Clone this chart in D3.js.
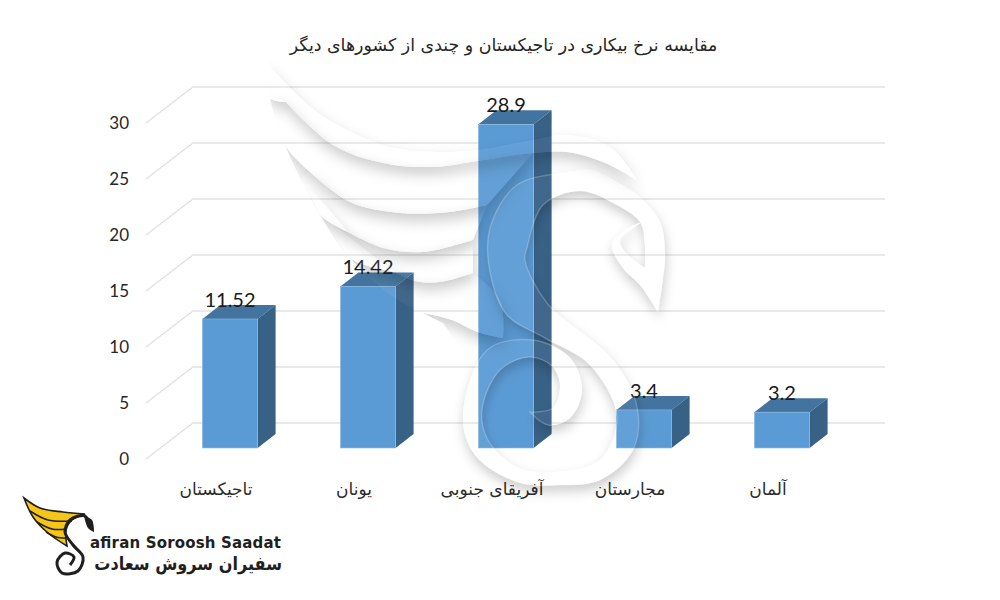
<!DOCTYPE html>
<html><head><meta charset="utf-8">
<script src="https://cdn.jsdelivr.net/npm/d3@7"></script>
<style>html,body{margin:0;background:#fff}svg{display:block}</style></head>
<body><svg id="c" width="1000" height="600"></svg>
<script>
const categories=["تاجیکستان","یونان","آفریقای جنوبی","مجارستان","آلمان"];
const values=[11.52,14.42,28.9,3.4,3.2];
const valueLabels=["11.52","14.42","28.9","3.4","3.2"];
const yTicks=[0,5,10,15,20,25,30];
const title="مقایسه نرخ بیکاری در تاجیکستان و چندی از کشورهای دیگر";
const logoLatin="afiran Soroosh Saadat";
const logoPersian="سفیران سروش سعادت";

const svg=d3.select("#c");
const y=d3.scaleLinear().domain([0,30]).range([448,112]);
const x=d3.scaleBand().domain(categories).range([161,851]).paddingInner(0.6).paddingOuter(0.3);
const depthX=18,depthY=14,wallX=47,wallY=36,gridFrontX=146,gridEndX=885;
const faFont="'DejaVu Sans',sans-serif",numFont="Lato,'Open Sans',sans-serif";

const grid=svg.append("g").attr("fill","none").attr("stroke","#e2e2e2").attr("stroke-width",1.4);
yTicks.forEach(t=>{
  const fy=y(t)+11;
  grid.append("path").attr("d",`M${gridFrontX},${fy}L${gridFrontX+wallX},${fy-wallY}L${gridEndX},${fy-wallY}`);
});
svg.append("g").selectAll("text").data(yTicks).join("text")
  .attr("x",129).attr("y",d=>y(d)+17).attr("text-anchor","end")
  .attr("font-family",numFont).attr("font-size",17).attr("fill","#262626").text(d=>d);

const bars=svg.append("g").selectAll("g").data(values).join("g");
const xs=(d,i)=>x(categories[i]);
bars.append("path").attr("fill","#42749f").attr("d",(d,i)=>{
  const a=xs(d,i),w=x.bandwidth(),t=y(d);
  return `M${a},${t}l${depthX},${-depthY}h${w}l${-depthX},${depthY}z`;});
bars.append("path").attr("fill","#386186").attr("d",(d,i)=>{
  const a=xs(d,i)+x.bandwidth(),t=y(d),b=y(0);
  return `M${a},${t}l${depthX},${-depthY}V${b-depthY}l${-depthX},${depthY}z`;});
bars.append("rect").attr("fill","#5b9bd5").attr("stroke","#8db9e2").attr("stroke-width",.6)
  .attr("x",xs).attr("y",d=>y(d)).attr("width",x.bandwidth()).attr("height",d=>y(0)-y(d));

svg.append("g").selectAll("text").data(values).join("text")
  .attr("x",(d,i)=>xs(d,i)+x.bandwidth()/2).attr("y",d=>y(d)-12)
  .attr("text-anchor","middle").attr("font-family",numFont).attr("font-size",20)
  .attr("fill","#1a1a1a").text((d,i)=>valueLabels[i]);

svg.append("g").selectAll("text").data(categories).join("text")
  .attr("x",d=>x(d)+x.bandwidth()/2-14).attr("y",495)
  .attr("text-anchor","middle").attr("font-family",faFont).attr("font-size",17).attr("fill","#2a2a2a")
  .text(d=>d);

svg.append("text").attr("x",503.5).attr("y",51).attr("text-anchor","middle")
  .attr("font-family",faFont).attr("font-size",17.4).attr("fill","#262626").text(title);

// watermark (decorative swan emblem)
const seg=pts=>d3.line().curve(d3.curveCatmullRom.alpha(.5))(pts);
const outline=(...segs)=>segs.map((s,i)=>i?seg(s).replace(/^M/,"L"):seg(s)).join("")+"Z";
const defs=svg.append("defs");
function shadowFilter(id,dy,blur,op,fillA){
  const f=defs.append("filter").attr("id",id).attr("filterUnits","userSpaceOnUse")
    .attr("x",200).attr("y",30).attr("width",560).attr("height",520);
  f.append("feGaussianBlur").attr("in","SourceAlpha").attr("stdDeviation",blur).attr("result","b");
  f.append("feOffset").attr("in","b").attr("dy",dy).attr("dx",1).attr("result","o");
  f.append("feFlood").attr("flood-color","#000").attr("flood-opacity",op).attr("result","c");
  f.append("feComposite").attr("in","c").attr("in2","o").attr("operator","in").attr("result","s");
  f.append("feComposite").attr("in","s").attr("in2","SourceAlpha").attr("operator","out").attr("result","sh");
  const t=f.append("feComponentTransfer").attr("in","SourceGraphic").attr("result","w");
  t.append("feFuncA").attr("type","linear").attr("slope",fillA);
  const m=f.append("feMerge");
  m.append("feMergeNode").attr("in","sh");
  m.append("feMergeNode").attr("in","w");
}
shadowFilter("wing",7,7,.2,.05);
shadowFilter("band",6,6,.2,.05);
const leftEdge=[[267,63],[270,98],[285,145],[320,215],[350,258],[390,295],[423,313],[443,323]];
const slot1=[[286,102],[333,145],[383,163],[433,167],[483,160],[533,153],[567,152],[603,162],[637,180]];
const topEdge=[[267,63],[317,112],[383,145],[437,152],[477,150],[533,140],[567,135],[610,147],[637,180]];
const slot2=[[310,172],[350,202],[400,213],[450,212],[487,205]];
const slot3=[[348,232],[383,248],[423,252],[473,240]];
const slot4=[[395,272],[415,281],[440,282],[473,273]];
const rev=a=>a.slice().reverse();
defs.append("clipPath").attr("id","wingClip").append("path")
  .attr("d",seg(leftEdge)+"L480,380L720,380L720,30L267,30Z");
const feathers=[
  outline([[473,273],[500,300],[503,338]],[[503,338],[477,332],[452,320],[423,313]],rev(leftEdge.slice(3,7)),[[320,215],[395,272]],slot4),
  outline(slot3,[[473,240],[473,273]],rev(slot4),[[395,272],[350,258],[320,215],[310,190],[348,232]]),
  outline(slot2,[[487,205],[473,240]],rev(slot3),[[348,232],[320,215],[300,180],[310,172]]),
  outline(slot1.slice(0,6),[[533,153],[487,205]],rev(slot2),[[310,172],[285,145],[270,98],[286,102]]),
  outline(topEdge,rev(slot1),[[286,102],[270,98],[267,63]])
];
const sBand=outline(
  [[617,182],[590,170],[570,172],[517,185],[490,228],[490,272],[507,315],[545,338],[590,365],[617,417],[600,460],[555,472],[517,467],[488,440],[482,410],[500,370],[530,357],[552,366],[560,385],[553,408],[530,412]],
  [[530,412],[548,425],[570,418],[582,390],[570,358],[533,340],[487,350],[463,417],[475,455],[517,482],[560,485],[600,480],[633,450],[637,407],[613,360],[547,303],[525,260],[527,248],[543,205],[580,191],[617,205],[640,222],[645,245],[645,268]],
  [[645,268],[625,252],[620,240],[640,223],[622,232],[612,245],[623,268],[640,285],[658,312]],
  [[658,312],[662,285],[665,255],[660,222],[640,197],[617,182]]
);
const wm=svg.append("g").attr("fill","#fff");
const wingG=wm.append("g").attr("clip-path","url(#wingClip)");
feathers.forEach(d=>wingG.append("path").attr("d",d).attr("filter","url(#wing)"));
wm.append("path").attr("d",sBand).attr("filter","url(#band)");
wm.append("path").attr("d",sBand).attr("fill","none").attr("stroke","#fff").attr("stroke-opacity",.2).attr("stroke-width",1.5);

// logo
const logo=svg.append("g");
logo.append("path").attr("fill","#f5c518").attr("stroke","#1f1f1f").attr("stroke-width",1.6)
 .attr("d",outline([[24,498],[40,508],[63,512],[85,514]],[[85,514],[72,520],[66,530],[67,546]],[[67,546],[48,533],[33,517],[24,498]]));
[[[30,511],[48,520],[72,521]],[[37,522],[52,529],[67,529]],[[46,532],[56,537],[66,538]]].forEach(p=>
 logo.append("path").attr("d",seg(p)).attr("fill","none").attr("stroke","#1f1f1f").attr("stroke-width",1.5));
logo.append("path").attr("fill","none").attr("stroke","#1f1f1f").attr("stroke-width",3)
 .attr("d",seg([[90,527],[85,516],[70,520],[65,532],[73,545],[83,557],[78,571],[62,573],[57,562],[65,553],[74,557],[70,565]]));
logo.append("path").attr("fill","#1f1f1f").attr("d",outline([[84,516],[92,520],[94,532]],[[94,532],[88,528],[84,516]]));
logo.append("text").attr("x",90).attr("y",548).attr("font-family","'DejaVu Sans',sans-serif")
 .attr("font-weight",700).attr("font-size",15).attr("textLength",191).attr("lengthAdjust","spacing")
 .attr("fill","#1f1f1f").text(logoLatin);
logo.append("text").attr("text-anchor","end").attr("transform","translate(282,570) scale(.87,1)").attr("font-family",faFont)
 .attr("font-weight",700).attr("font-size",18.5).attr("fill","#1f1f1f").text(logoPersian);
</script></body></html>
